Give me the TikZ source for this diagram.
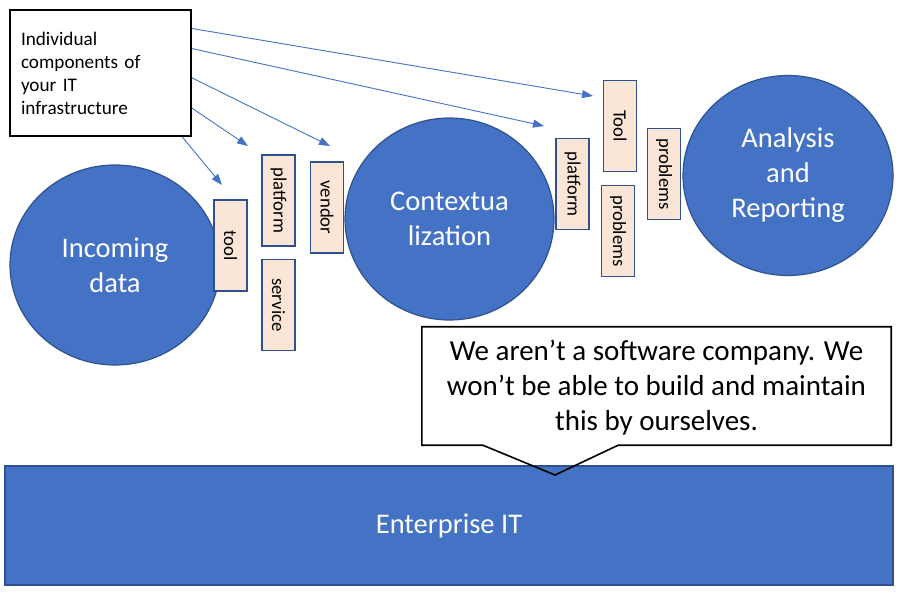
\documentclass[tikz,border=0pt]{standalone}
\usepackage{fontspec}
\setmainfont{Carlito}
\usetikzlibrary{arrows.meta,shapes.geometric}
\definecolor{iblue}{HTML}{4472C4}
\definecolor{ibord}{HTML}{2F528F}
\definecolor{peach}{HTML}{FBE5D6}
\begin{document}
\begin{tikzpicture}[x=1pt,y=-1pt,
  lbl/.style={draw=ibord,fill=peach,line width=1.6pt,rotate=-90,minimum width=91pt,
    minimum height=33pt,inner sep=0pt,font=\fontsize{18.7}{23}\selectfont},
  blob/.style={ellipse,draw=ibord,fill=iblue,line width=1.2pt,inner sep=0pt,
    text=white,align=center,font=\fontsize{28.5}{35}\selectfont},
  ptr/.style={draw=iblue,line width=0.9pt,-{Triangle[length=11pt,width=8pt]}}]
\useasboundingbox(0,0)rectangle(899,593);
%
\node[blob,minimum width=210pt,minimum height=200pt](inc)at(115,265){Incoming\\data};
\node[blob,minimum width=209pt,minimum height=202pt](ctx)at(449.5,219){Contextua\\lization};
\node[blob,minimum width=210pt,minimum height=200pt](ana)at(788,175.5){Analysis\\and\\Reporting};
%
\node[lbl](tool)at(230.5,245.5){tool};
\node[lbl](plat)at(278.5,200.5){platform};
\node[lbl](serv)at(278.5,305){service};
\node[lbl](vend)at(327,207.5){vendor};
\node[lbl](platB)at(572.5,184){platform};
\node[lbl](toolB)at(620,126){Tool};
\node[lbl](prob)at(618,231){problems};
\node[lbl](probB)at(664,174){problems};
%
\node[draw,line width=1.6pt,minimum width=181pt,minimum height=126pt,text width=159pt,
  inner sep=0pt,align=left,font=\fontsize{19.2}{23}\selectfont](src)at(100.5,73)
  {Individual\\components of\\your IT\\infrastructure};
\coordinate(eA)at(593,96);
\coordinate(eB)at(544,126);
\coordinate(eC)at(330,146);
\coordinate(eD)at(248,146);
\coordinate(eE)at(222,185);
\draw[ptr](src.26.4)--(eA);
\draw[ptr](src.15.4)--(eB);
\draw[ptr](src.-3.2)--(eC);
\draw[ptr](src.-21.1)--(eD);
\draw[ptr](src.-38.7)--(eE);
%
\node[draw=ibord,fill=iblue,line width=1.4pt,minimum width=888pt,minimum height=119pt,
  text=white,font=\fontsize{28.5}{35}\selectfont](ent)at(449,525.5){Enterprise IT};
\node[minimum width=469pt,minimum height=118pt,align=center,
  font=\fontsize{29}{35}\selectfont](say)at(656.5,388)
  {We aren’t a software company. We\\won’t be able to build and maintain\\this by ourselves.};
\coordinate(tip)at(555,475);
\draw[line width=1.6pt,line join=miter]([yshift=2pt]say.north west)--([yshift=2pt]say.north east)
  --([yshift=2pt]say.south east)--([xshift=-273pt,yshift=2pt]say.south east)--(tip)
  --([xshift=61pt,yshift=2pt]say.south west)--([yshift=2pt]say.south west)--cycle;
\end{tikzpicture}
\end{document}
